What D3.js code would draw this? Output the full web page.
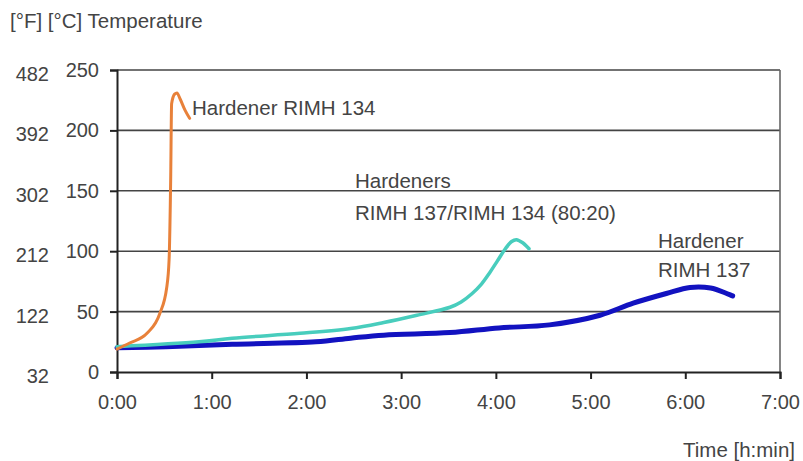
<!DOCTYPE html>
<html>
<head>
<meta charset="utf-8">
<script src="https://cdn.jsdelivr.net/npm/d3@7/dist/d3.min.js"></script>
<style>
  html, body { margin: 0; padding: 0; background: #fff; }
  svg { display: block; }
  text { font-family: "Liberation Sans", Arial, sans-serif; fill: #444; }
</style>
</head>
<body>
<svg id="chart" width="803" height="461"></svg>
<script>
// time in minutes, temperature in °C
const orangeTime = [0, 8, 19, 27, 31.5, 33, 34, 34.6, 36.5, 38, 40, 43, 46];
const orangeTemp = [19, 24, 32, 48, 70, 93, 159, 222, 230, 231, 226, 217, 210];

const cyanTime = [0, 52, 73, 116, 148, 169, 190, 211, 218, 225, 231, 236, 241, 246, 250, 253, 257, 261];
const cyanTemp = [21, 25, 28, 32, 36, 41, 47, 53.6, 58, 65, 73, 82, 92, 102, 108, 109.5, 107, 102];

const blueTime = [0, 31, 73, 126, 148, 169, 211, 242, 274, 306, 327, 348, 363, 376, 390];
const blueTemp = [20, 21, 23, 25, 28, 30.5, 32.6, 36.5, 39, 47, 57, 65, 70, 69.5, 63];

const xTicks = [0, 60, 120, 180, 240, 300, 360, 420];
const xTickLabels = ["0:00", "1:00", "2:00", "3:00", "4:00", "5:00", "6:00", "7:00"];
const cTicks = [0, 50, 100, 150, 200, 250];
const fTickLabels = ["32", "122", "212", "302", "392", "482"];

const svg = d3.select("#chart");
const x = d3.scaleLinear().domain([0, 420]).range([117, 780]);
const y = d3.scaleLinear().domain([0, 250]).range([372, 70]);

// gridlines
svg.append("g").selectAll("line").data(cTicks.slice(1)).join("line")
  .attr("x1", x(0)).attr("x2", x(420))
  .attr("y1", d => y(d)).attr("y2", d => y(d))
  .attr("stroke", "#444").attr("stroke-width", 1.6);

// right border
svg.append("line")
  .attr("x1", x(420)).attr("x2", x(420)).attr("y1", y(0)).attr("y2", y(250))
  .attr("stroke", "#666").attr("stroke-width", 1.6);

// left axis (°C)
const yAxis = d3.axisLeft(y).tickValues(cTicks).tickSize(7).tickPadding(11);
const gy = svg.append("g").attr("transform", `translate(${x(0)},0)`).call(yAxis);
gy.select(".domain").attr("stroke", "#222").attr("stroke-width", 2);
gy.selectAll(".tick line").attr("stroke", "#222").attr("stroke-width", 2);
gy.selectAll(".tick text").attr("font-size", 20).attr("fill", "#444")
  .attr("font-family", "Liberation Sans, Arial, sans-serif");

// °F labels
svg.append("g").selectAll("text").data(cTicks).join("text")
  .attr("x", 49).attr("y", d => y(d) + 4).attr("dy", "0.35em")
  .attr("text-anchor", "end").attr("font-size", 20)
  .text((d, i) => fTickLabels[i]);

// bottom axis
const xAxis = d3.axisBottom(x).tickValues(xTicks).tickSize(7).tickPadding(16)
  .tickFormat((d, i) => xTickLabels[i]);
const gx = svg.append("g").attr("transform", `translate(0,${y(0)})`).call(xAxis);
gx.select(".domain").attr("stroke", "#222").attr("stroke-width", 2);
gx.selectAll(".tick line").attr("stroke", "#222").attr("stroke-width", 2);
gx.selectAll(".tick text").attr("font-size", 20).attr("fill", "#444")
  .attr("font-family", "Liberation Sans, Arial, sans-serif");

// lines
const lineMono = d3.line().x(d => x(d[0])).y(d => y(d[1])).curve(d3.curveMonotoneX);
const lineSmooth = d3.line().x(d => x(d[0])).y(d => y(d[1])).curve(d3.curveCatmullRom.alpha(0.5));
function draw(times, temps, color, w, gen) {
  svg.append("path").datum(times.map((t, i) => [t, temps[i]]))
    .attr("d", gen).attr("fill", "none").attr("stroke", color)
    .attr("stroke-width", w).attr("stroke-linejoin", "round").attr("stroke-linecap", "round");
}
draw(blueTime, blueTemp, "#1212c0", 5, lineSmooth);
draw(cyanTime, cyanTemp, "#48cdbd", 3.5, lineSmooth);
draw(orangeTime, orangeTemp, "#e8813a", 3, lineMono);

// titles and annotations
const txt = (s, xx, yy, anchor) => svg.append("text").attr("x", xx).attr("y", yy)
  .attr("font-size", 20.5).attr("text-anchor", anchor || "start").text(s);
txt("[°F] [°C] Temperature", 10, 28);
txt("Hardener RIMH 134", 192, 115);
txt("Hardeners", 355, 188);
txt("RIMH 137/RIMH 134 (80:20)", 355, 220);
txt("Hardener", 658, 248);
txt("RIMH 137", 658, 277);
txt("Time [h:min]", 795, 457, "end");
</script>
</body>
</html>
